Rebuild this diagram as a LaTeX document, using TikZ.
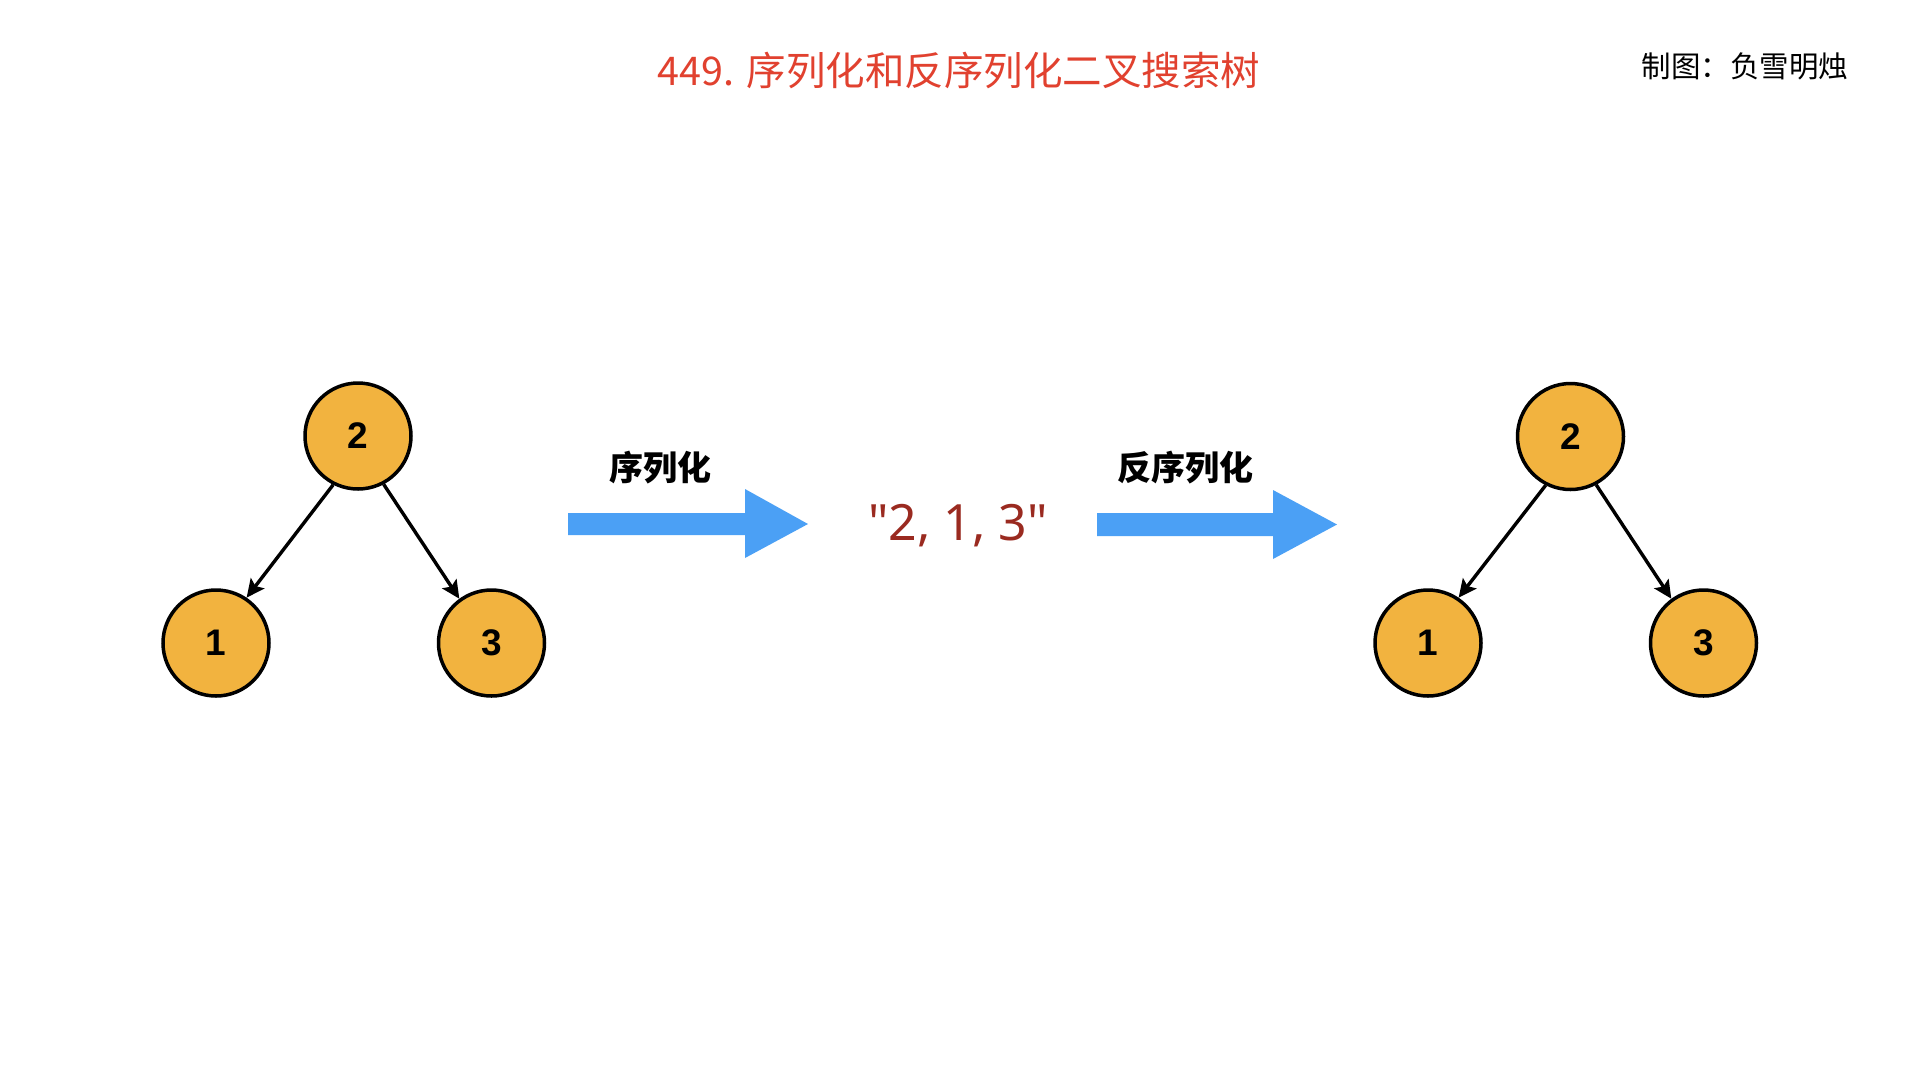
\documentclass[tikz,border=0pt]{standalone}
\usepackage{fontspec}
\setmainfont{Noto Sans CJK SC}
\newfontfamily\numfont{Liberation Sans}
\newfontfamily\strfont{Noto Sans}
\usetikzlibrary{arrows.meta}
\definecolor{nodeorange}{HTML}{F2B33F}
\definecolor{fatblue}{HTML}{4BA0F5}
\definecolor{titlered}{HTML}{E1412F}
\definecolor{strred}{HTML}{9A2A20}
\tikzset{
  treenode/.style={circle,draw=black,line width=3.5pt,fill=nodeorange,minimum size=106pt,inner sep=0pt,
    font=\numfont\bfseries\fontsize{37}{40}\selectfont},
  treeedge/.style={line width=3.4pt,-{Stealth[length=18pt,width=17pt,inset=3.5pt]},shorten >=0pt},
  fatarrow/.style={fill=fatblue,draw=none},
  lbl/.style={font=\bfseries\fontsize{34}{40}\selectfont,inner sep=0pt}
}
\begin{document}
\begin{tikzpicture}[x=1pt,y=-1pt]
\useasboundingbox[fill=white] (0,0) rectangle (1920,1080);
% title
\node[text=titlered,font=\fontsize{39.5}{46}\selectfont,inner sep=0pt] (title) at (959,70) {449. 序列化和反序列化二叉搜索树};
\node[text=black,font=\fontsize{29.5}{34}\selectfont,inner sep=0pt] (author) at (1745,66) {制图：负雪明烛};
% left tree
\node[treenode] (l2) at (358,436) {2};
\node[treenode] (l1) at (216,643) {1};
\node[treenode] (l3) at (491.5,643) {3};
\draw[treeedge] (l2.-117) -- (l1.56);
\draw[treeedge] (l2.-62) -- (l3.126);
% right tree
\node[treenode] (r2) at (1570.5,436.5) {2};
\node[treenode] (r1) at (1428,643) {1};
\node[treenode] (r3) at (1703.5,643) {3};
\draw[treeedge] (r2.-117) -- (r1.56);
\draw[treeedge] (r2.-62) -- (r3.126);
% fat arrows
\fill[fatarrow] (568,513) -- (745,513) -- (745,489) -- (808,524) -- (745,558) -- (745,535) -- (568,535) -- cycle;
\fill[fatarrow] (1097,513) -- (1273,513) -- (1273,490) -- (1337,524.5) -- (1273,559) -- (1273,536) -- (1097,536) -- cycle;
\node[lbl] (ser) at (660,468) {序列化};
\node[lbl] (deser) at (1185,468) {反序列化};
% string
\node[text=strred,font=\strfont\fontsize{50}{54}\selectfont,inner sep=0pt] (str) at (958,526) {"2, 1, 3"};
\end{tikzpicture}
\end{document}
